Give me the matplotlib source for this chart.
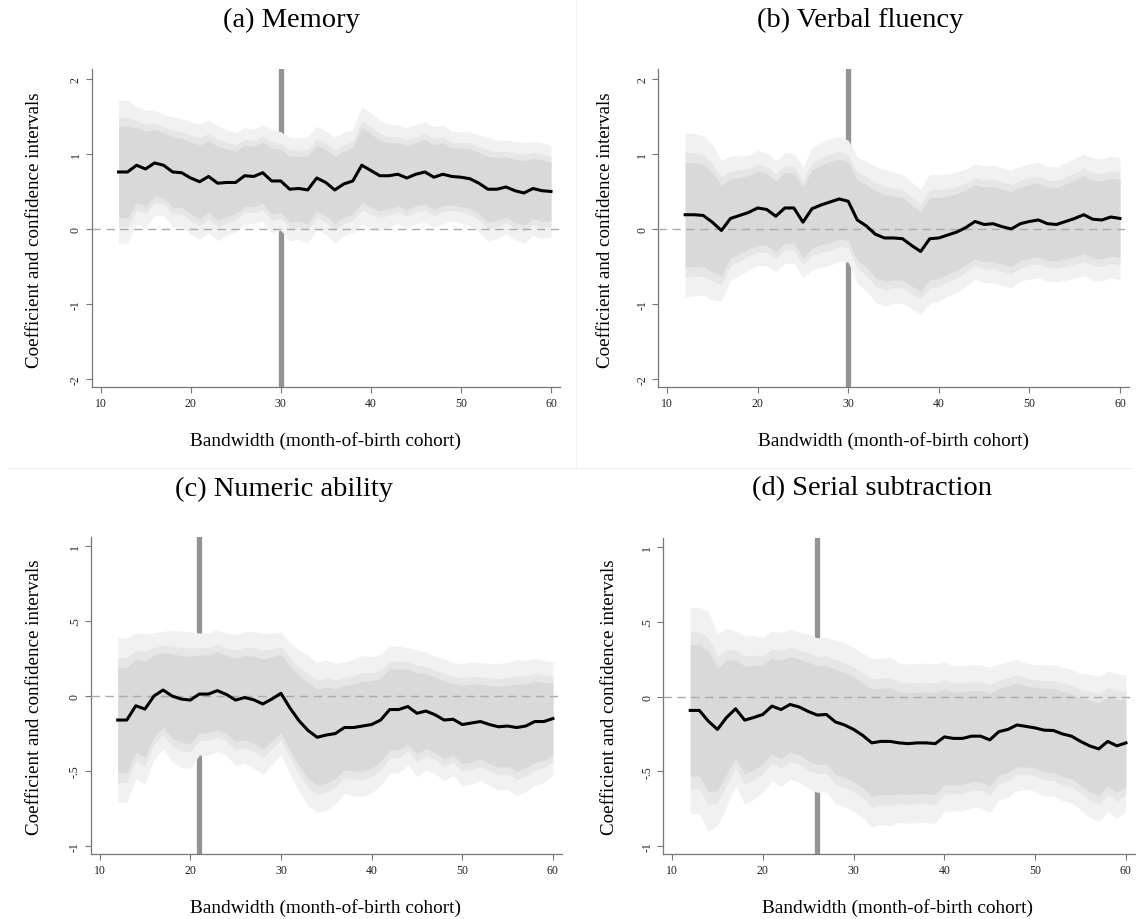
import matplotlib
matplotlib.use('Agg')
import matplotlib.pyplot as plt
from matplotlib.lines import Line2D
import numpy as np

plt.rcParams['font.family'] = ['Liberation Serif', 'DejaVu Serif']

# bandwidth (month-of-birth cohort)
bw = list(range(12, 61))

# (a) Memory
coef_a = [.76, .76, .85, .80, .88, .85, .76, .75, .68, .63,
          .70, .61, .62, .62, .71, .70, .75, .64, .64, .53,
          .54, .52, .68, .62, .52, .60, .64, .85, .78, .71,
          .71, .73, .68, .73, .76, .69, .73, .70, .69, .67,
          .61, .53, .53, .56, .51, .48, .54, .51, .50]
half90_a = [.61, .61, .50, .50, .45, .43, .47, .46, .48, .49,
            .48, .49, .45, .42, .41, .40, .41, .44, .42, .44,
            .43, .45, .44, .44, .45, .44, .44, .50, .49, .47,
            .44, .42, .43, .42, .43, .43, .42, .38, .39, .40,
            .41, .44, .42, .40, .42, .43, .40, .41, .39]

# (b) Verbal fluency
coef_b = [.19, .19, .18, .09, -.02, .14, .18, .22, .28, .26,
          .17, .28, .28, .09, .27, .32, .36, .40, .37, .12,
          .04, -.07, -.12, -.12, -.13, -.22, -.30, -.13, -.12, -.08,
          -.04, .02, .10, .06, .07, .03, .00, .07, .10, .12,
          .07, .06, .10, .14, .19, .13, .12, .16, .14]
half90_b = [.70, .69, .68, .66, .60, .53, .51, .49, .49, .48,
            .47, .47, .47, .47, .52, .53, .54, .53, .52, .54,
            .55, .58, .58, .56, .55, .54, .53, .55, .54, .52,
            .51, .50, .49, .50, .50, .50, .50, .49, .49, .49,
            .49, .49, .50, .51, .52, .52, .52, .52, .52]

# (c) Numeric ability
coef_c = [-.16, -.16, -.065, -.087, .00, .04, .00, -.02, -.027, .013,
          .013, .036, .01, -.027, -.01, -.025, -.053, -.02, .018, -.08,
          -.165, -.23, -.275, -.26, -.25, -.21, -.21, -.20, -.19, -.16,
          -.09, -.09, -.07, -.115, -.10, -.125, -.16, -.155, -.19, -.18,
          -.17, -.19, -.205, -.20, -.21, -.20, -.17, -.17, -.15]
half90_c = [.35, .35, .31, .32, .27, .25, .28, .29, .29, .26,
            .26, .26, .26, .28, .28, .29, .30, .28, .26, .28,
            .30, .32, .32, .32, .30, .28, .29, .30, .29, .28,
            .27, .27, .25, .27, .25, .25, .26, .24, .26, .26,
            .25, .26, .27, .27, .29, .28, .27, .26, .24]

# (d) Serial subtraction
coef_d = [-.093, -.093, -.165, -.22, -.14, -.082, -.158, -.14, -.12, -.064,
          -.087, -.053, -.07, -.10, -.124, -.12, -.17, -.19, -.22, -.26,
          -.31, -.30, -.30, -.31, -.315, -.31, -.31, -.315, -.27, -.28,
          -.28, -.265, -.265, -.29, -.235, -.22, -.19, -.20, -.21, -.225,
          -.227, -.25, -.265, -.30, -.33, -.35, -.30, -.33, -.31]
half90_d = [.44, .44, .47, .41, .38, .33, .36, .35, .33, .32,
            .33, .32, .32, .33, .33, .33, .35, .35, .35, .35,
            .36, .355, .36, .34, .34, .34, .34, .34, .32, .31,
            .31, .305, .305, .31, .29, .29, .28, .27, .27, .28,
            .28, .285, .285, .29, .305, .31, .30, .31, .29]

titles = ['(a) Memory', '(b) Verbal fluency', '(c) Numeric ability', '(d) Serial subtraction']
cutoffs = [30, 30, 21, 26]
yticks_big = [-2, -1, 0, 1, 2]
yticklabels_big = ['-2', '-1', '0', '1', '2']
yticks_small = [-1, -.5, 0, .5, 1]
yticklabels_small = ['-1', '-.5', '0', '.5', '1']
xticks = [10, 20, 30, 40, 50, 60]

W, H = 1138, 920
fig = plt.figure(figsize=(W / 100, H / 100), dpi=100)


def add_ax(l, t, r, b):
    return fig.add_axes([l / W, 1 - b / H, (r - l) / W, (b - t) / H])


def draw(ax, coef, half90, cut, ylim, yt, ytl):
    x = np.array(bw)
    c = np.array(coef)
    h = np.array(half90)
    h95 = h * 1.96 / 1.645
    h99 = h * 2.576 / 1.645
    ax.axvline(cut, color='#939393', lw=3.8, zorder=1)
    ax.fill_between(x, c - h99, c + h99, color='#f1f1f1', lw=0, zorder=2)
    ax.fill_between(x, c - h95, c + h95, color='#e6e6e6', lw=0, zorder=2)
    ax.fill_between(x, c - h, c + h, color='#d9d9d9', lw=0, zorder=2)
    ax.axhline(0, color='#aaaaaa', lw=1, ls=(0, (6, 4)), zorder=3)
    ax.plot(x, c, color='black', lw=2.2, zorder=4)
    ax.set_xlim(9, 61)
    ax.set_ylim(*ylim)
    ax.set_xticks(xticks)
    ax.set_xticklabels([str(t) for t in xticks])
    ax.set_yticks(yt)
    ax.set_yticklabels(ytl, rotation=90, va='center')
    for s in ['top', 'right']:
        ax.spines[s].set_visible(False)
    for s in ['left', 'bottom']:
        ax.spines[s].set_color('#777777')
        ax.spines[s].set_linewidth(0.9)
    ax.tick_params(direction='out', length=4, width=0.8, color='#777777',
                   labelsize=8.5, labelcolor='#222222', pad=3)
    ax.patch.set_alpha(0)


ax_a = add_ax(91.5, 70, 560, 388)
draw(ax_a, coef_a, half90_a, cutoffs[0], (-2.107, 2.133), yticks_big, yticklabels_big)
ax_b = add_ax(658, 70, 1129, 388)
draw(ax_b, coef_b, half90_b, cutoffs[1], (-2.107, 2.133), yticks_big, yticklabels_big)
ax_c = add_ax(90.5, 538, 562, 855)
draw(ax_c, coef_c, half90_c, cutoffs[2], (-1.053, 1.06), yticks_small, yticklabels_small)
ax_d = add_ax(663, 539, 1135, 855)
draw(ax_d, coef_d, half90_d, cutoffs[3], (-1.053, 1.06), yticks_small, yticklabels_small)

# panel titles and axis labels
title_pos = [(291, 20), (860, 20), (284, 489), (872, 489)]
xlab_pos = [(325, 441), (893, 441), (326, 908), (898, 908)]
ylab_pos = [(35, 230), (605, 230), (35, 697), (610, 697)]
for i in range(4):
    fig.text(title_pos[i][0] / W, 1 - title_pos[i][1] / H, titles[i],
             ha='center', va='center', fontsize=20.5)
    fig.text(xlab_pos[i][0] / W, 1 - xlab_pos[i][1] / H, 'Bandwidth (month-of-birth cohort)',
             ha='center', va='center', fontsize=13.9)
    fig.text(ylab_pos[i][0] / W, 1 - ylab_pos[i][1] / H, 'Coefficient and confidence intervals',
             ha='center', va='center', fontsize=13.7, rotation=90)

# faint separators between subfigures
fig.add_artist(Line2D([8 / W, 1132 / W], [1 - 469 / H, 1 - 469 / H], color='#edf1f1', lw=0.8))
fig.add_artist(Line2D([576 / W, 576 / W], [1 - 0 / H, 1 - 469 / H], color='#edf1f1', lw=0.8))

plt.savefig('out.png', dpi=100)
